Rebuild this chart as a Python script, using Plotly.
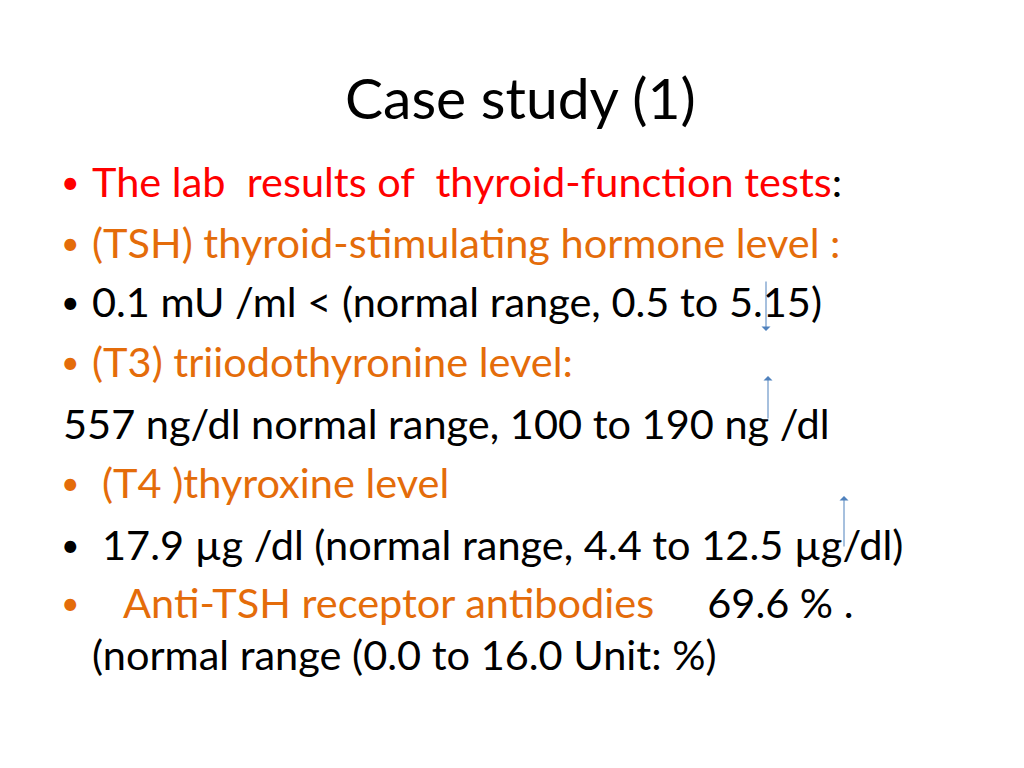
import plotly.graph_objects as go

# -----------------------------------------------------------
# Slide content
# -----------------------------------------------------------
RED = "#FF0000"
ORANGE = "#E46C0A"
BLACK = "#000000"
BLUE = "#4F81BD"

title = "Case study (1)"

# (bullet?, text x, y, html text)
lines = [
    (True, 92, 182, f"<span style='color:{RED}'>The lab  results of  thyroid-function tests</span>:"),
    (True, 92, 243, f"<span style='color:{ORANGE}'>(TSH) thyroid-stimulating hormone level :</span>"),
    (True, 92, 302, "0.1 mU /ml < (normal range, 0.5 to 5.15)"),
    (True, 92, 362, f"<span style='color:{ORANGE}'>(T3) triiodothyronine level:</span>"),
    (False, 63, 424, "557 ng/dl normal range, 100 to 190 ng /dl"),
    (True, 102, 483, f"<span style='color:{ORANGE}'>(T4 )thyroxine level</span>"),
    (True, 102, 545, "17.9 µg /dl (normal range, 4.4 to 12.5 µg/dl)"),
    (True, 123, 603, f"<span style='color:{ORANGE}'>Anti-TSH receptor antibodies</span>     69.6 % ."),
    (False, 92, 655, "(normal range (0.0 to 16.0 Unit: %)"),
]
bullet_colors = [RED, ORANGE, BLACK, ORANGE, None, ORANGE, BLACK, ORANGE, None]

# arrows: x, tail y, head y
arrow_x = [758, 760, 836]
arrow_tail = [272, 412, 540]
arrow_head = [323, 368, 488]

# -----------------------------------------------------------
# Figure
# -----------------------------------------------------------
fig = go.Figure()
font = "Lato, 'Open Sans', sans-serif"
dx, dy = -10, -9   # annotation padding compensation

ann = [dict(x=512, y=98 + dy, text=title, showarrow=False, xanchor="center",
            yanchor="middle", font=dict(family=font, size=57, color=BLACK))]

for (has_bullet, x, y, txt), bc in zip(lines, bullet_colors):
    ann.append(dict(x=x + dx, y=y + dy, text=txt, showarrow=False, xanchor="left",
                    yanchor="middle", font=dict(family=font, size=41.5, color=BLACK)))
    if has_bullet:
        ann.append(dict(x=62, y=y + dy, text="•", showarrow=False, xanchor="center",
                        yanchor="middle", font=dict(family=font, size=32, color=bc)))

for ax_, t, h in zip(arrow_x, arrow_tail, arrow_head):
    ann.append(dict(x=ax_, y=h, ax=ax_, ay=t, xref="x", yref="y", axref="x", ayref="y",
                    text="", showarrow=True, arrowhead=1, arrowsize=1.5,
                    arrowwidth=1, arrowcolor=BLUE))

fig.update_layout(
    width=1024, height=768,
    margin=dict(l=0, r=0, t=0, b=0),
    paper_bgcolor="white", plot_bgcolor="white",
    xaxis=dict(range=[0, 1024], visible=False, fixedrange=True),
    yaxis=dict(range=[768, 0], visible=False, fixedrange=True),
    annotations=ann,
    showlegend=False,
)

fig.write_html("out.html", config={"displayModeBar": False})
